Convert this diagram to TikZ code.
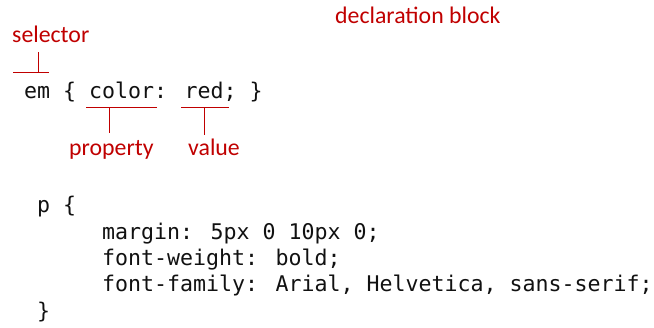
\documentclass[tikz,border=0pt]{standalone}
\usepackage{fontspec}
\setmainfont{Carlito}
\newfontfamily\codefont{DejaVu Sans Mono}
\definecolor{lblred}{HTML}{C00000}
\definecolor{codeblack}{HTML}{111111}
\tikzset{
  code/.style={anchor=base west, inner sep=0pt, font=\codefont\fontsize{21.6}{26}\selectfont, text=codeblack},
  lbl/.style={anchor=base west, inner sep=0pt, font=\fontsize{23.8}{28}\selectfont, text=lblred},
  brk/.style={draw=lblred, line width=1pt}
}
\begin{document}
\begin{tikzpicture}[x=1pt,y=-1pt]
\useasboundingbox (0,0) rectangle (654,328);
% labels
\node[lbl] (decl) at (335,24) {declaration block};
\node[lbl] (sel) at (12,43) {selector};
\node[lbl] (prop) at (69,156) {property};
\node[lbl] (val) at (188,156) {value};
% code
\node[code] (emline) at (24,99) {em \{ color: red; \}};
\node[code] (pline) at (37,213) {p \{};
\node[code] (l1) at (102,240) {margin: 5px 0 10px 0;};
\node[code] (l2) at (102,266) {font-weight: bold;};
\node[code] (l3) at (102,292) {font-family: Arial, Helvetica, sans-serif;};
\node[code] (close) at (37,319) {\}};
% bracket coordinates
\coordinate (selL) at (13,73);
\coordinate (selR) at (49,73);
\coordinate (selM) at (38,73);
\coordinate (selT) at (38,52);
\coordinate (propL) at (86,108);
\coordinate (propR) at (157,108);
\coordinate (propM) at (109,108);
\coordinate (propB) at (109,133);
\coordinate (valL) at (181,108);
\coordinate (valR) at (229,108);
\coordinate (valM) at (204,108);
\coordinate (valB) at (204,135);
% brackets
\draw[brk] (selL) -- (selR);
\draw[brk] (selM) -- (selT);
\draw[brk] (propL) -- (propR);
\draw[brk] (propM) -- (propB);
\draw[brk] (valL) -- (valR);
\draw[brk] (valM) -- (valB);
\end{tikzpicture}
\end{document}
